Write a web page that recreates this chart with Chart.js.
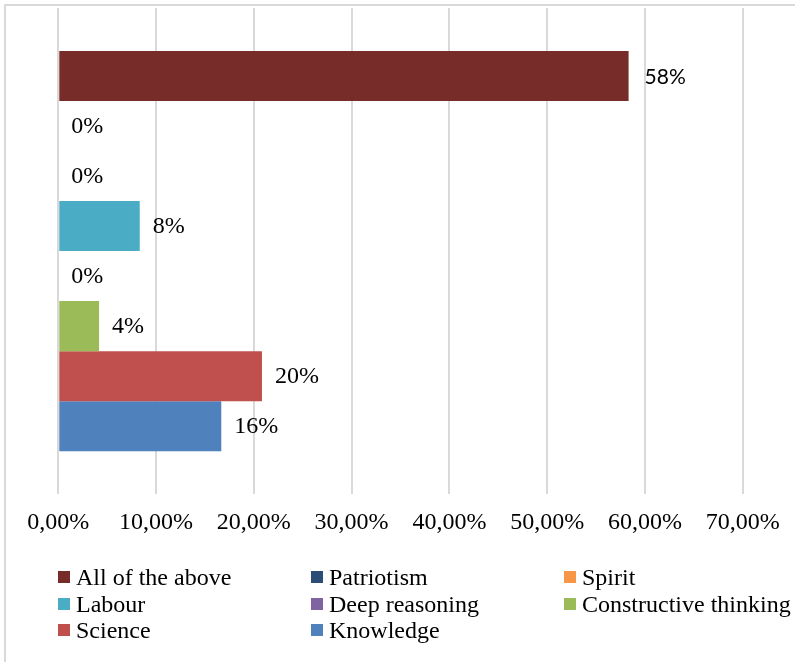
<!DOCTYPE html>
<html>
<head>
<meta charset="utf-8">
<script src="https://cdn.jsdelivr.net/npm/chart.js@4.4.1/dist/chart.umd.min.js"></script>
<style>
  html, body { margin: 0; padding: 0; background: #fff; }
  #wrap { position: relative; width: 795px; height: 662px; overflow: hidden; }
  #frame {
    position: absolute; left: 4px; top: 4px; width: 800px; height: 700px;
    border-top: 2px solid #d9d9d9; border-left: 2px solid #d9d9d9;
  }
  #chart { position: absolute; left: 0; top: 0; }
  #legend {
    position: absolute; left: 58px; top: 564px;
    display: grid; grid-template-columns: 253px 253px auto;
    font-family: "Liberation Serif", "Times New Roman", serif;
    font-size: 24px; line-height: 26.5px; color: #000;
  }
  #legend .item { display: flex; align-items: center; white-space: nowrap; }
  #legend .box { width: 12px; height: 12px; margin-right: 6px; flex: none; }
</style>
</head>
<body>
<div id="wrap">
  <div id="frame"></div>
  <canvas id="chart" width="795" height="662"></canvas>
  <div id="legend"></div>
</div>
<script>
// ==============================
// DATA
// ==============================
const seriesNames = [
  'All of the above', 'Patriotism', 'Spirit', 'Labour',
  'Deep reasoning', 'Constructive thinking', 'Science', 'Knowledge'
];
const seriesValues = [58.33, 0, 0, 8.33, 0, 4.17, 20.83, 16.67];
const seriesColors = [
  '#772c2a', '#2c4d75', '#f79646', '#4bacc6',
  '#8064a2', '#9bbb59', '#c0504d', '#4f81bd'
];
const xTicks = [0, 10, 20, 30, 40, 50, 60, 70];

const SERIF = '"Liberation Serif", "Times New Roman", serif';

// ==============================
// VALUE LABELS NEXT TO BAR ENDS
// (percent shown without decimals, truncated)
// ==============================
const barLabels = {
  id: 'barLabels',
  afterDatasetsDraw(chart) {
    const ctx = chart.ctx;
    ctx.save();
    ctx.fillStyle = '#000';
    ctx.textBaseline = 'middle';
    ctx.textAlign = 'left';
    chart.data.datasets.forEach((ds, i) => {
      const bar = chart.getDatasetMeta(i).data[0];
      ctx.font = ds.labelFont;
      ctx.fillText(Math.floor(ds.data[0]) + '%', bar.x + ds.labelGap, bar.y + 1);
    });
    ctx.restore();
  }
};

const datasets = seriesNames.map((name, i) => ({
  label: name,
  data: [seriesValues[i]],
  backgroundColor: seriesColors[i],
  borderWidth: 0,
  barPercentage: 1,
  categoryPercentage: 0.823,
  // the first label uses a sans face
  labelFont: i === 0 ? '21px Lato, "Open Sans", sans-serif' : '24px ' + SERIF,
  labelGap: i === 0 ? 16 : 13
}));

const chart = new Chart(document.getElementById('chart'), {
  type: 'bar',
  data: { labels: [''], datasets },
  options: {
    indexAxis: 'y',
    responsive: false,
    animation: false,
    layout: { padding: { left: 58.3, right: 52.3, top: 8, bottom: 111 } },
    plugins: { legend: { display: false }, tooltip: { enabled: false } },
    scales: {
      y: { display: false },
      x: {
        min: xTicks[0],
        max: xTicks[xTicks.length - 1],
        afterBuildTicks: axis => { axis.ticks = xTicks.map(v => ({ value: v })); },
        border: { display: false },
        grid: { color: '#d9d9d9', lineWidth: 2, drawTicks: false },
        ticks: {
          color: '#000',
          padding: 14,
          maxRotation: 0,
          font: { family: SERIF, size: 24 },
          callback: v => v.toFixed(2).replace('.', ',') + '%'
        }
      }
    }
  },
  plugins: [barLabels]
});

// ==============================
// LEGEND (three columns)
// ==============================
const legend = document.getElementById('legend');
seriesNames.forEach((name, i) => {
  const item = document.createElement('div');
  item.className = 'item';
  const box = document.createElement('span');
  box.className = 'box';
  box.style.background = seriesColors[i];
  item.appendChild(box);
  item.appendChild(document.createTextNode(name));
  legend.appendChild(item);
});
</script>
</body>
</html>
